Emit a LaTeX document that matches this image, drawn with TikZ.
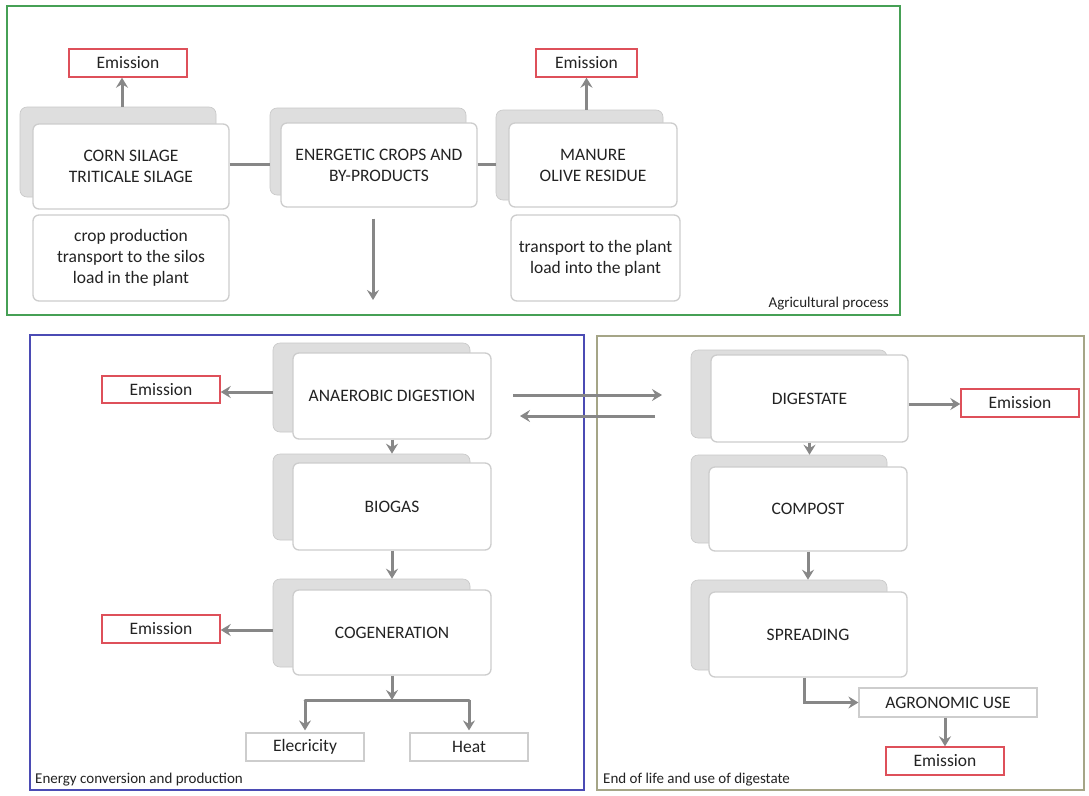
\documentclass[tikz,border=0pt]{standalone}
\usepackage{fontspec}
\setmainfont{Carlito}
\usetikzlibrary{arrows.meta,calc}
\definecolor{txt}{RGB}{35,35,35}
\definecolor{arrc}{RGB}{135,135,135}
\definecolor{shfill}{RGB}{222,222,222}
\definecolor{bord}{RGB}{205,205,205}
\definecolor{emred}{RGB}{222,80,90}
\definecolor{frgreen}{RGB}{70,160,85}
\definecolor{frblue}{RGB}{75,75,180}
\definecolor{frolive}{RGB}{165,165,135}
\tikzset{
  shbox/.style={fill=shfill,draw=shfill!90!black,line width=0.6pt,rounded corners=7pt,inner sep=0pt},
  frbox/.style={fill=white,draw=bord,line width=1.3pt,rounded corners=6pt,inner sep=0pt,align=center,text=txt,font=\fontsize{17.5}{21}\selectfont},
  embox/.style={fill=white,draw=emred,line width=1.4pt,inner sep=0pt,text=txt,font=\fontsize{17.5}{20}\selectfont},
  plainbox/.style={fill=white,draw=bord,line width=1.2pt,inner sep=0pt,text=txt,font=\fontsize{17.5}{20}\selectfont},
  arr/.style={draw=arrc,line width=3pt,-{Stealth[length=10pt,width=12pt,inset=3.5pt]}},
  ln/.style={draw=arrc,line width=3pt},
  frame/.style={line width=1.5pt},
  lbl/.style={text=txt,font=\fontsize{15}{16}\selectfont,inner sep=0pt}
}
\begin{document}
\begin{tikzpicture}[x=1pt,y=-1pt]
\useasboundingbox (0,0) rectangle (1089,795);
\fill[white] (0,0) rectangle (1089,795);

% frames
\draw[frame,draw=frgreen] (7,6) rectangle (900,315);
\draw[frame,draw=frblue] (30,335) rectangle (584,790);
\draw[frame,draw=frolive] (597,336) rectangle (1084,790);
\node[lbl,anchor=south east] (lagr) at (889,310) {Agricultural process};
\node[lbl,anchor=south west] (lene) at (35,786) {Energy conversion and production};
\node[lbl,anchor=south west] (lend) at (603,786) {End of life and use of digestate};

% ---------- top row ----------
\node[shbox,minimum width=196pt,minimum height=90pt] (shC) at (118,152) {};
\node[frbox,minimum width=196pt,minimum height=85pt] (C) at (131,166.5) {CORN SILAGE\\TRITICALE SILAGE};
\node[shbox,minimum width=196pt,minimum height=87pt] (shE) at (368,151.5) {};
\node[frbox,minimum width=196pt,minimum height=84pt] (E) at (379,165) {ENERGETIC CROPS AND\\BY-PRODUCTS};
\node[shbox,minimum width=167pt,minimum height=90pt] (shM) at (579.5,155) {};
\node[frbox,minimum width=168pt,minimum height=84pt] (M) at (593,165) {MANURE\\OLIVE RESIDUE};
\node[frbox,minimum width=196pt,minimum height=86pt] (Csub) at (131,258) {crop production\\transport to the silos\\load in the plant};
\node[frbox,minimum width=169pt,minimum height=86pt] (Msub) at (595.5,258) {transport to the plant\\load into the plant};
\node[embox,minimum width=118pt,minimum height=28pt] (em1) at (128,63) {Emission};
\node[embox,minimum width=101pt,minimum height=28pt] (em2) at (586.5,63) {Emission};

\draw[ln] (C.east |- 0,164) -- (shE.west |- 0,164);
\draw[ln] (E.east |- 0,164) -- (shM.west |- 0,164);
\draw[arr] ($(em1.south |- shC.north)+(-6,0)$) -- ($(em1.south)+(-6,0)$);
\draw[arr] (em2.south |- shM.north) -- (em2.south);
\coordinate (Eout) at (373,300);
\draw[arr] ($(E.south)+(-6,11)$) -- (Eout);

% ---------- bottom left ----------
\node[shbox,minimum width=197pt,minimum height=89pt] (shA) at (371.5,387.5) {};
\node[frbox,minimum width=198pt,minimum height=86pt] (A) at (392,396) {ANAEROBIC DIGESTION};
\node[shbox,minimum width=197pt,minimum height=86pt] (shB) at (371.5,497) {};
\node[frbox,minimum width=198pt,minimum height=87pt] (B) at (392,506.5) {BIOGAS};
\node[shbox,minimum width=197pt,minimum height=88pt] (shG) at (371.5,623) {};
\node[frbox,minimum width=198pt,minimum height=85pt] (G) at (392,632.5) {COGENERATION};
\node[embox,minimum width=118pt,minimum height=27pt] (emA) at (161,389.5) {Emission};
\node[embox,minimum width=118pt,minimum height=28pt] (emG) at (161,629) {Emission};
\node[plainbox,minimum width=118pt,minimum height=28pt] (el) at (305,747) {Elecricity};
\node[plainbox,minimum width=118pt,minimum height=28pt] (heat) at (469,747) {Heat};

\draw[arr] (shA.west |- 0,392) -- (emA.east |- 0,392);
\draw[arr] (shG.west |- 0,630) -- (emG.east |- 0,630);
\draw[arr] (A.south) -- (A.south |- shB.north);
\draw[arr] (B.south) -- (B.south |- shG.north);
\coordinate (br) at (392,700);
\draw[arr] (G.south) -- (br);
\draw[ln,line cap=round] (el.north |- br) -- (heat.north |- br);
\draw[arr] (el.north |- br) -- ($(el.north)+(0,-2)$);
\draw[arr] (heat.north |- br) -- ($(heat.north)+(0,-2)$);

% ---------- bottom right ----------
\node[shbox,minimum width=196pt,minimum height=88pt] (shD) at (789,394) {};
\node[frbox,minimum width=197pt,minimum height=87pt] (D) at (809.5,398.5) {DIGESTATE};
\node[shbox,minimum width=196pt,minimum height=88pt] (shCo) at (789,499) {};
\node[frbox,minimum width=198pt,minimum height=84pt] (Co) at (808,509) {COMPOST};
\node[shbox,minimum width=196pt,minimum height=90pt] (shS) at (789,625) {};
\node[frbox,minimum width=198pt,minimum height=85pt] (S) at (808,634.5) {SPREADING};
\node[embox,minimum width=118pt,minimum height=28pt] (emD) at (1020,403) {Emission};
\node[plainbox,minimum width=178pt,minimum height=29pt] (ag) at (948,702.5) {AGRONOMIC USE};
\node[embox,minimum width=118pt,minimum height=28pt] (emAg) at (945,761) {Emission};

\draw[arr] (D.east |- 0,404) -- (emD.west |- 0,404);
\draw[arr] (D.south) -- (D.south |- shCo.north);
\draw[arr] (Co.south) -- (Co.south |- shS.north);
\draw[arr] ($(S.south)+(-4,0)$) |- (ag.west);
\draw[arr] (emAg.north |- ag.south) -- (emAg.north);

% double arrows between A and D
\coordinate (r1) at (513,395);
\coordinate (r2) at (662,395);
\coordinate (l1) at (655,416);
\coordinate (l2) at (520,416);
\draw[arr] (r1) -- (r2);
\draw[arr] (l1) -- (l2);
\end{tikzpicture}
\end{document}
